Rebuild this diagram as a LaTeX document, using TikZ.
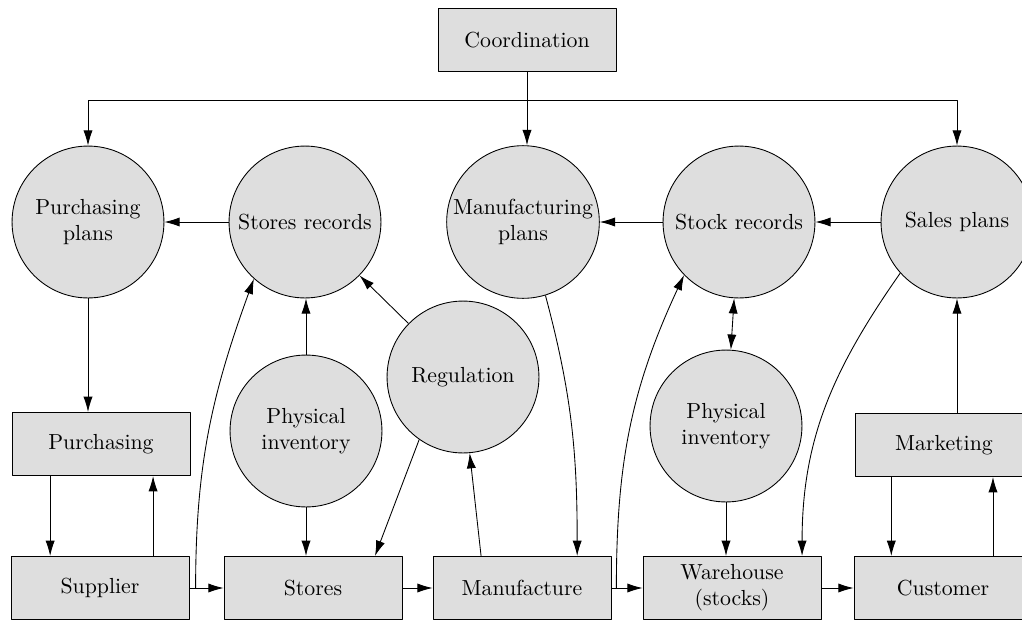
\documentclass[tikz,border=0pt]{standalone}
\usetikzlibrary{arrows.meta}
\definecolor{boxgray}{gray}{0.87}
\begin{document}
\begin{tikzpicture}[x=0.01613cm, y=-0.01613cm, >={Latex[length=7pt,width=4.2pt]}, line join=round, font=\normalsize,
	blk/.style={draw, fill=boxgray, minimum width=2.87cm, minimum height=1.02cm, align=center, inner sep=1pt},
	blob/.style={draw, circle, fill=boxgray, minimum size=2.45cm, align=center, inner sep=1pt}]
	\useasboundingbox (0,0) rectangle (1022,621);
	\node[blk] (coord) at (527,40) {Coordination};
	\node[blob] (pplans) at (88,222) {Purchasing\\plans};
	\node[blob] (srec) at (305,222) {Stores records};
	\node[blob] (mplans) at (523,222) {Manufacturing\\plans};
	\node[blob] (strec) at (739,222) {Stock records};
	\node[blob] (splans) at (957,222) {Sales plans};
	\node[blob] (reg) at (463,377) {Regulation};
	\node[blob] (pinvA) at (306,431) {Physical\\inventory};
	\node[blob] (pinvB) at (726,426) {Physical\\inventory};
	\node[blk] (purch) at (101,444) {Purchasing};
	\node[blk] (mark) at (944,445) {Marketing};
	\node[blk] (supp) at (100,588) {Supplier};
	\node[blk] (stores) at (313,588) {Stores};
	\node[blk] (manu) at (522,588) {Manufacture};
	\node[blk] (wareh) at (732,588) {Warehouse\\(stocks)};
	\node[blk] (cust) at (943,588) {Customer};
	\path (coord.south) ++(0,28) coordinate (bus);
	\draw[->] (coord.south) -- (coord.south |- mplans.north);
	\draw[->] (bus) -| (pplans.north);
	\draw[->] (bus) -| (splans.north);
	\draw[->] (srec) -- (pplans);
	\draw[->] (strec) -- (mplans);
	\draw[->] (splans) -- (strec);
	\draw[->] (pplans.south) -- (pplans.south |- purch.north);
	\draw[->] ([xshift=-0.82cm]purch.south) -- ([xshift=-0.82cm]purch.south |- supp.north);
	\draw[->] ([xshift=0.84cm]supp.north -| purch.south) -- ([xshift=0.84cm]purch.south);
	\draw[->] ([xshift=-0.85cm]mark.south) -- ([xshift=-0.85cm]mark.south |- cust.north);
	\draw[->] ([xshift=0.79cm]cust.north -| mark.south) -- ([xshift=0.79cm]mark.south);
	\draw[->] (supp) -- (stores);
	\draw[->] (stores) -- (manu);
	\draw[->] (manu) -- (wareh);
	\draw[->] (wareh) -- (cust);
	\draw[->] ([xshift=0.1cm]supp.east) to[out=90, in=250] (srec.228);
	\draw[->] ([xshift=0.08cm]manu.east) to[out=90, in=245] (strec.224);
	\draw[->] (mplans.287) to[out=-75, in=90] ([xshift=0.89cm]manu.north);
	\draw[->] (splans.222) to[out=235, in=90] ([xshift=1.13cm]wareh.north);
	\draw[->] (pinvA.north) -- (pinvA.north |- srec.south);
	\draw[->] (pinvA.south) -- (pinvA.south |- stores.north);
	\draw[->] (reg) -- (srec);
	\draw[->] (reg.235) -- ([xshift=1cm]stores.north);
	\draw[->] ([xshift=-0.66cm]manu.north) -- (reg.275);
	\draw[<->] (strec) -- (pinvB);
	\draw[->] (pinvB.south) -- (pinvB.south |- wareh.north);
	\draw[->] (mark.north -| splans.south) -- (splans.south);
\end{tikzpicture}
\end{document}
